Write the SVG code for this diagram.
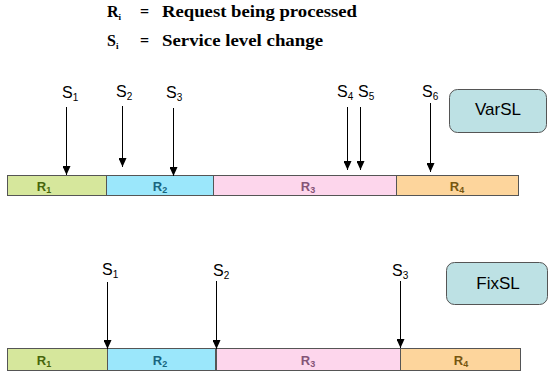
<svg xmlns="http://www.w3.org/2000/svg" width="548" height="374" viewBox="0 0 548 374">
  <style>
    .legend { font-family: "Liberation Serif", "DejaVu Serif", serif; font-size: 16px; font-weight: bold; fill: #000; }
    .sub { font-size: 9px; }
    .sig { font-family: "Liberation Sans", Arial, sans-serif; font-size: 16px; fill: #000; }
    .sig tspan { font-size: 10px; }
    .seg { stroke: #555; stroke-width: 1; }
    .rl { font-family: "Liberation Sans", Arial, sans-serif; font-size: 13px; font-weight: bold; text-anchor: middle; }
    .rl tspan { font-size: 9px; }
    .r1 { fill: #d6e79c; } .r1t { fill: #46650a; }
    .r2 { fill: #9be7fb; } .r2t { fill: #17657f; }
    .r3 { fill: #fdd6ec; } .r3t { fill: #845476; }
    .r4 { fill: #fdd59c; } .r4t { fill: #765610; }
    .tag rect { fill: #bde1e4; stroke: #555; stroke-width: 1; }
    .tag text { font-family: "Liberation Sans", Arial, sans-serif; font-size: 17px; text-anchor: middle; fill: #000; }
    .arrow { stroke: #000; stroke-width: 1; fill: none; marker-end: url(#head); }
  </style>
  <defs>
    <!-- filled triangular head, tip at the line end -->
    <marker id="head" viewBox="0 0 9 8" refX="9" refY="4" markerWidth="9" markerHeight="8" markerUnits="userSpaceOnUse" orient="auto">
      <path d="M0,0 L9,4 L0,8 Z" fill="#000"/>
    </marker>
  </defs>

  <!-- legend -->
  <g id="legend">
    <text class="legend" x="107" y="17">R<tspan class="sub" dy="3">i</tspan></text>
    <text class="legend" x="140" y="17">=</text>
    <text class="legend" x="162" y="17" textLength="195" lengthAdjust="spacingAndGlyphs">Request being processed</text>
    <text class="legend" x="107" y="46">S<tspan class="sub" dy="3">i</tspan></text>
    <text class="legend" x="140" y="46">=</text>
    <text class="legend" x="162" y="46" textLength="161" lengthAdjust="spacingAndGlyphs">Service level change</text>
  </g>

  <!-- variable service level timeline -->
  <g id="var-timeline">
    <g id="var-r1"><rect class="seg r1" x="7.5" y="175.5" width="99" height="20"/><text class="rl r1t" x="44" y="191">R<tspan dy="2">1</tspan></text></g>
    <g id="var-r2"><rect class="seg r2" x="106.5" y="175.5" width="107" height="20"/><text class="rl r2t" x="160" y="191">R<tspan dy="2">2</tspan></text></g>
    <g id="var-r3"><rect class="seg r3" x="213.5" y="175.5" width="183" height="20"/><text class="rl r3t" x="308" y="191">R<tspan dy="2">3</tspan></text></g>
    <g id="var-r4"><rect class="seg r4" x="396.5" y="175.5" width="122" height="20"/><text class="rl r4t" x="457" y="191">R<tspan dy="2">4</tspan></text></g>
  </g>
  <g id="var-tag" class="tag">
    <rect x="449.5" y="89.5" width="97" height="43" rx="8"/>
    <text x="498" y="115">VarSL</text>
  </g>
  <g id="var-labels">
    <text class="sig" x="62" y="98">S<tspan dy="3">1</tspan></text>
    <text class="sig" x="116" y="97">S<tspan dy="3">2</tspan></text>
    <text class="sig" x="166" y="98">S<tspan dy="3">3</tspan></text>
    <text class="sig" x="337" y="97">S<tspan dy="3">4</tspan></text>
    <text class="sig" x="358" y="97">S<tspan dy="3">5</tspan></text>
    <text class="sig" x="422" y="97">S<tspan dy="3">6</tspan></text>
  </g>

  <!-- fixed service level timeline -->
  <g id="fix-timeline">
    <g id="fix-r1"><rect class="seg r1" x="7.5" y="348.5" width="100" height="22"/><text class="rl r1t" x="44" y="365">R<tspan dy="2">1</tspan></text></g>
    <g id="fix-r2"><rect class="seg r2" x="107.5" y="348.5" width="108" height="22"/><text class="rl r2t" x="160" y="365">R<tspan dy="2">2</tspan></text></g>
    <g id="fix-r3"><rect class="seg r3" x="216.5" y="348.5" width="184" height="22"/><text class="rl r3t" x="308" y="365">R<tspan dy="2">3</tspan></text></g>
    <g id="fix-r4"><rect class="seg r4" x="400.5" y="348.5" width="120" height="22"/><text class="rl r4t" x="461" y="365">R<tspan dy="2">4</tspan></text></g>
  </g>
  <g id="fix-tag" class="tag">
    <rect x="446.5" y="262.5" width="101" height="42" rx="8"/>
    <text x="498" y="289">FixSL</text>
  </g>
  <g id="fix-labels">
    <text class="sig" x="102" y="275">S<tspan dy="3">1</tspan></text>
    <text class="sig" x="213" y="276">S<tspan dy="3">2</tspan></text>
    <text class="sig" x="392" y="276">S<tspan dy="3">3</tspan></text>
  </g>

  <!-- service level change connectors -->
  <g id="connectors">
    <line class="arrow" x1="66.5" y1="107" x2="66.5" y2="175"/>
    <line class="arrow" x1="122.5" y1="106" x2="122.5" y2="167"/>
    <line class="arrow" x1="173.5" y1="108" x2="173.5" y2="176"/>
    <line class="arrow" x1="347.5" y1="107" x2="347.5" y2="170"/>
    <line class="arrow" x1="360.5" y1="107" x2="360.5" y2="170"/>
    <line class="arrow" x1="430.5" y1="103" x2="430.5" y2="172"/>
    <line class="arrow" x1="107.5" y1="282" x2="107.5" y2="349"/>
    <line class="arrow" x1="216.5" y1="281" x2="216.5" y2="349"/>
    <line class="arrow" x1="400.5" y1="281" x2="400.5" y2="348"/>
  </g>
</svg>
